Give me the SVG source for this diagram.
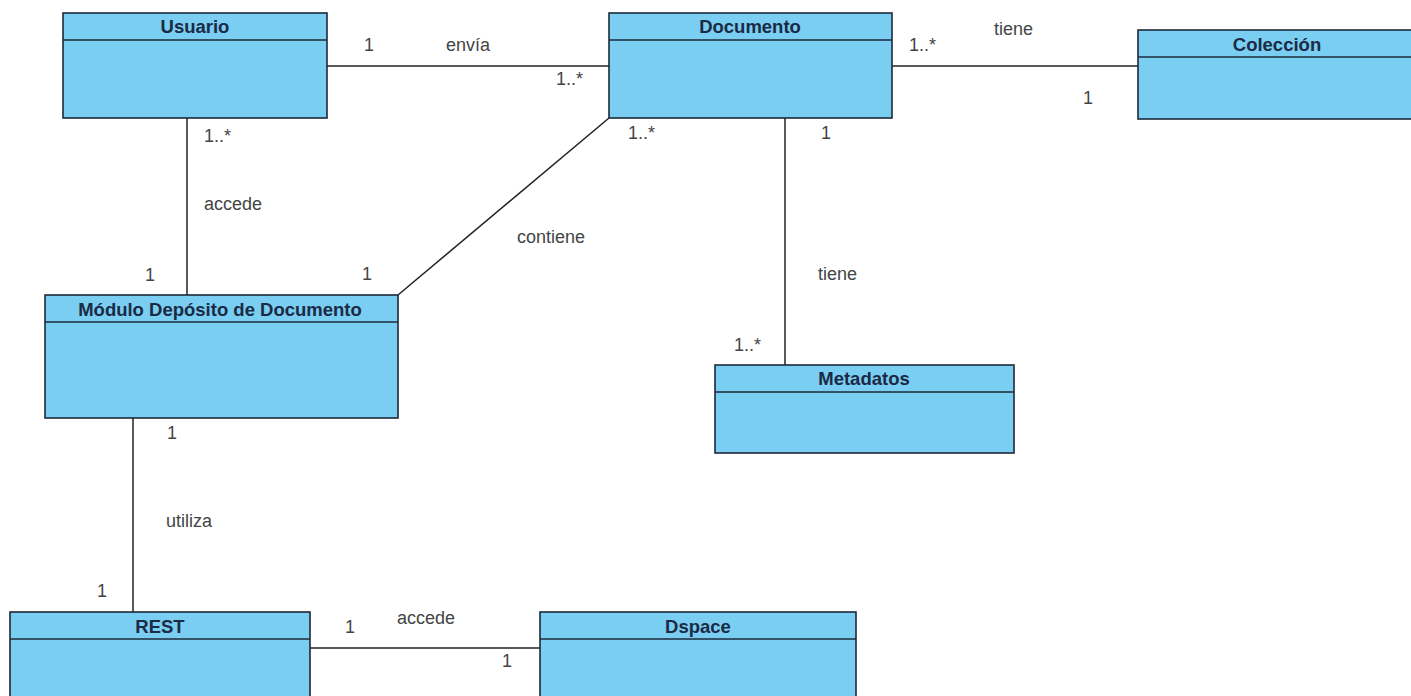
<svg xmlns="http://www.w3.org/2000/svg" width="1411" height="696" viewBox="0 0 1411 696">
  <style>
    .box { fill: #79cef2; stroke: #1d2a3a; stroke-width: 1.6; }
    .sep { stroke: #1d2a3a; stroke-width: 1.6; }
    .title { font-family: "Liberation Sans", Arial, sans-serif; font-size: 18.5px; font-weight: bold; fill: #1b2a45; text-anchor: middle; }
    .lbl { font-family: "Liberation Sans", Arial, sans-serif; font-size: 18px; fill: #444; }
    .conn { stroke: #222; stroke-width: 1.5; fill: none; }
  </style>
  <rect width="1411" height="696" fill="#ffffff"/>

  <!-- associations -->
  <g id="connectors">
    <line class="conn" x1="327" y1="66" x2="609" y2="66"/>
    <line class="conn" x1="892" y1="66" x2="1138" y2="66"/>
    <line class="conn" x1="187" y1="118" x2="187" y2="295"/>
    <line class="conn" x1="609" y1="118" x2="398" y2="295"/>
    <line class="conn" x1="785" y1="118" x2="785" y2="365"/>
    <line class="conn" x1="133" y1="418" x2="133" y2="612"/>
    <line class="conn" x1="310" y1="648" x2="540" y2="648"/>

    <text class="lbl" x="364" y="51">1</text>
    <text class="lbl" x="446" y="51">envía</text>
    <text class="lbl" x="556" y="85">1..*</text>
    <text class="lbl" x="909" y="51">1..*</text>
    <text class="lbl" x="994" y="35">tiene</text>
    <text class="lbl" x="1083" y="104">1</text>
    <text class="lbl" x="204" y="142">1..*</text>
    <text class="lbl" x="204" y="210">accede</text>
    <text class="lbl" x="145" y="281">1</text>
    <text class="lbl" x="362" y="280">1</text>
    <text class="lbl" x="517" y="243">contiene</text>
    <text class="lbl" x="628" y="139">1..*</text>
    <text class="lbl" x="821" y="139">1</text>
    <text class="lbl" x="818" y="280">tiene</text>
    <text class="lbl" x="734" y="351">1..*</text>
    <text class="lbl" x="167" y="439">1</text>
    <text class="lbl" x="166" y="527">utiliza</text>
    <text class="lbl" x="97" y="597">1</text>
    <text class="lbl" x="345" y="633">1</text>
    <text class="lbl" x="397" y="624">accede</text>
    <text class="lbl" x="502" y="667">1</text>
  </g>

  <g id="usuario">
    <rect class="box" x="63" y="13" width="264" height="105"/>
    <line class="sep" x1="63" y1="40" x2="327" y2="40"/>
    <text class="title" x="195" y="33">Usuario</text>
  </g>

  <g id="documento">
    <rect class="box" x="609" y="13" width="283" height="105"/>
    <line class="sep" x1="609" y1="40" x2="892" y2="40"/>
    <text class="title" x="750" y="33">Documento</text>
  </g>

  <g id="coleccion">
    <rect class="box" x="1138" y="30" width="280" height="89"/>
    <line class="sep" x1="1138" y1="57" x2="1418" y2="57"/>
    <text class="title" x="1277" y="51">Colección</text>
  </g>

  <g id="modulo-deposito">
    <rect class="box" x="45" y="295" width="353" height="123"/>
    <line class="sep" x1="45" y1="322" x2="398" y2="322"/>
    <text class="title" x="220" y="316">Módulo Depósito de Documento</text>
  </g>

  <g id="metadatos">
    <rect class="box" x="715" y="365" width="299" height="88"/>
    <line class="sep" x1="715" y1="392" x2="1014" y2="392"/>
    <text class="title" x="864" y="385">Metadatos</text>
  </g>

  <g id="rest">
    <rect class="box" x="10" y="612" width="300" height="100"/>
    <line class="sep" x1="10" y1="639" x2="310" y2="639"/>
    <text class="title" x="160" y="633">REST</text>
  </g>

  <g id="dspace">
    <rect class="box" x="540" y="612" width="316" height="100"/>
    <line class="sep" x1="540" y1="639" x2="856" y2="639"/>
    <text class="title" x="698" y="633">Dspace</text>
  </g>
</svg>
